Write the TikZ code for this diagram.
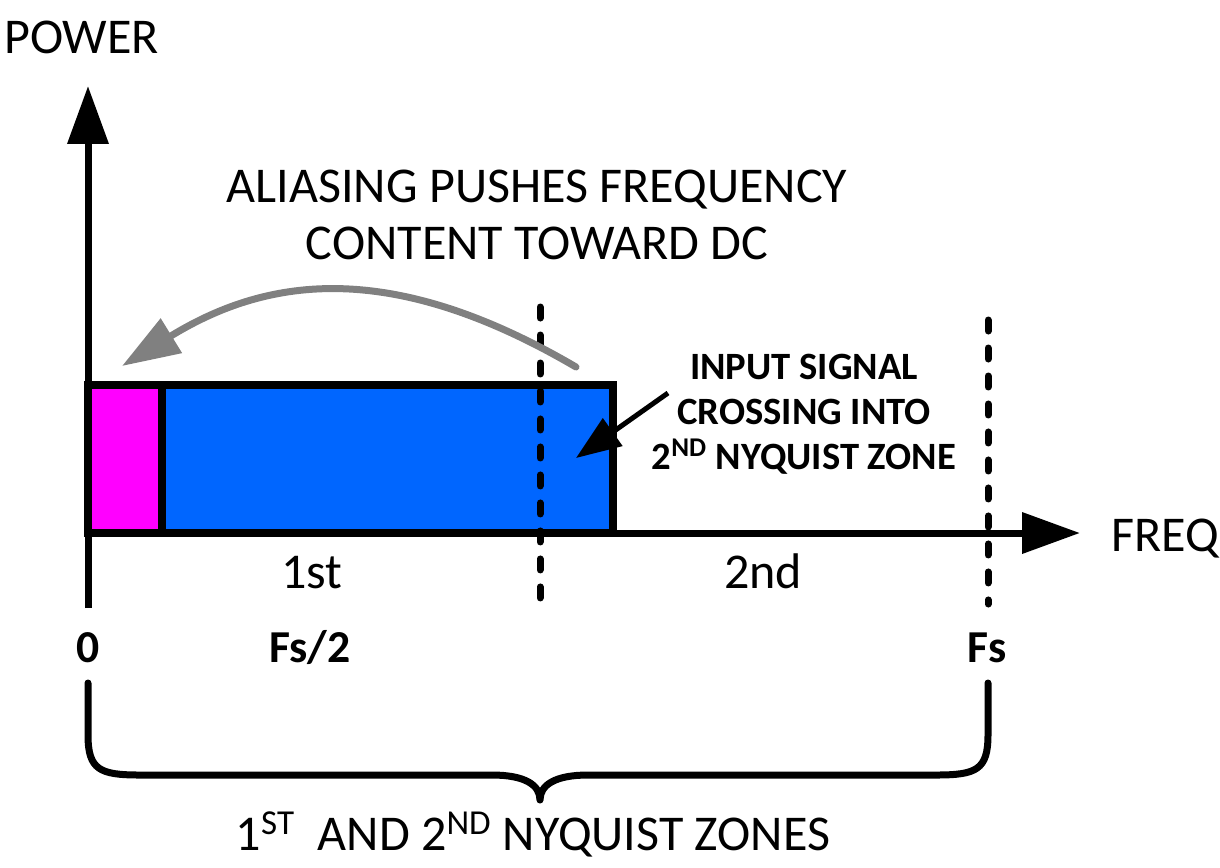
\documentclass[tikz,border=0pt]{standalone}
\usepackage{fontspec}
\setmainfont{Carlito}
\usetikzlibrary{arrows.meta}
\definecolor{zoneblue}{RGB}{0,102,255}
\definecolor{aliasmag}{RGB}{255,0,255}

\begin{document}
\begin{tikzpicture}[
    x=0.02cm, y=-0.02cm,
    axis/.style={line width=0.14cm, -{Triangle[length=1.16cm, width=0.8cm]}},
    band/.style={draw=black, line width=0.16cm},
    zonemark/.style={line width=0.14cm, line cap=round, dash pattern=on 0.22cm off 0.34cm},
    pusharrow/.style={draw=gray, line width=0.14cm, line cap=round, -{Triangle[length=1.16cm, width=0.78cm]}},
    notearrow/.style={line width=0.1cm, -{Triangle[length=0.9cm, width=0.66cm]}},
    bigtext/.style={font=\fontsize{28.5}{32.5}\selectfont, inner sep=0pt},
    ticktext/.style={font=\fontsize{26}{30}\selectfont\bfseries, inner sep=0pt},
    notetext/.style={font=\fontsize{22}{25.6}\selectfont\bfseries, align=center, inner sep=0pt}
  ]
    \useasboundingbox (0,0) rectangle (1220,867);

    % signal band
    \draw[band, fill=aliasmag] (88,385) rectangle (162,533);
    \draw[band, fill=zoneblue] (162,385) rectangle (613,533);

    % axes
    \coordinate (origin) at (88,533);
    \coordinate (ytop) at (88,86);
    \coordinate (ybot) at (88,608);
    \coordinate (xend) at (1080,533);
    \draw[axis] (ybot) -- (ytop);
    \draw[axis] (origin) -- (xend);

    % zone limits
    \coordinate (halftop) at (540,307);
    \coordinate (halfbot) at (540,604);
    \coordinate (fstop) at (988,320);
    \coordinate (fsbot) at (988,604);
    \draw[zonemark] (halftop) -- (halfbot);
    \draw[zonemark] (fstop) -- (fsbot);

    % labels
    \node[bigtext, anchor=base west] (power) at (4,53) {POWER};
    \node[bigtext, anchor=base west] (freq) at (1111,551) {FREQ};
    \node[bigtext, align=center] (alias) at (537,215) {ALIASING PUSHES FREQUENCY\\CONTENT TOWARD DC};
    \node[notetext] (crossing) at (804,414) {INPUT SIGNAL\\CROSSING INTO\\2\textsuperscript{ND} NYQUIST ZONE};
    \node[bigtext, anchor=base] (first) at (312,588) {1st};
    \node[bigtext, anchor=base] (second) at (763,588) {2nd};
    \node[ticktext, anchor=base] (zero) at (88,662) {0};
    \node[ticktext, anchor=base] (half) at (310,662) {Fs/2};
    \node[ticktext, anchor=base] (fs) at (987,662) {Fs};
    \node[bigtext, anchor=base] (zones) at (533,850) {1\textsuperscript{ST}~ AND 2\textsuperscript{ND} NYQUIST ZONES};

    % arrows
    \coordinate (pushfrom) at (576,367);
    \coordinate (pushto) at (122,366);
    \draw[pusharrow] (pushfrom) .. controls (385,255) and (262,280) .. (pushto);
    \coordinate (notefrom) at (668,393);
    \coordinate (noteto) at (576,458);
    \draw[notearrow] (notefrom) -- (noteto);

    % brace
    \coordinate (bracel) at (88,683);
    \coordinate (bracer) at (988,683);
    \coordinate (bracetip) at (540,800);
    \draw[line width=0.14cm, line cap=round, line join=round]
      (bracel) -- (88,735) .. controls (88,770) and (100,775) .. (140,775) -- (492,775)
      .. controls (525,775) and (540,785) .. (bracetip)
      .. controls (540,785) and (555,775) .. (588,775) -- (936,775)
      .. controls (976,775) and (988,770) .. (988,735) -- (bracer);
  \end{tikzpicture}
\end{document}
